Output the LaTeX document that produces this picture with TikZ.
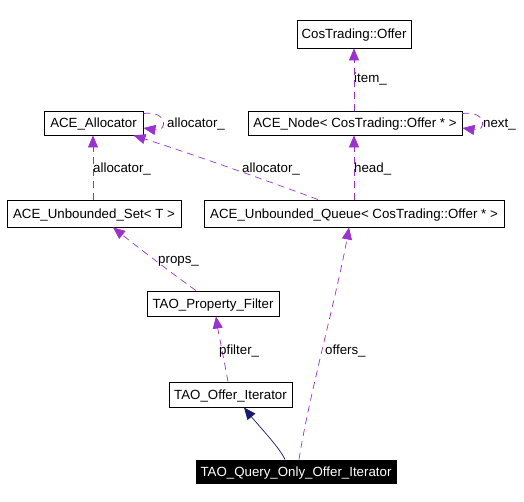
\documentclass[tikz,border=0pt]{standalone}
\usepackage{fontspec}
\setmainfont{Liberation Sans}
\usetikzlibrary{arrows.meta}
\definecolor{edgep}{RGB}{154,50,205}
\definecolor{edgen}{RGB}{25,25,112}
\begin{document}
\begin{tikzpicture}[x=1pt,y=-1pt,
  txt/.style={font=\fontsize{13.3}{15}\selectfont, text height=11pt, text depth=1.8pt},
  box/.style={txt, draw=black, line width=0.9pt, inner sep=0pt, fill=white},
  curbox/.style={box, fill=black, text=white},
  lbl/.style={txt, anchor=west, inner sep=0pt},
  rel/.style={draw=edgep, line width=0.7pt, dash pattern=on 7pt off 5pt,
     -{Triangle[length=12pt,width=10pt,fill=edgep]}},
  inh/.style={draw=edgen, line width=0.7pt,
     -{Triangle[length=12pt,width=10pt,fill=edgen]}}]
\useasboundingbox (0,0) rectangle (524,502);
% nodes
\node[box, minimum width=114pt, minimum height=28pt] (offer) at (354,34) {CosTrading::Offer};
\node[box, minimum width=99pt, minimum height=24pt] (alloc) at (93.5,123) {ACE\_Allocator};
\node[box, minimum width=214pt, minimum height=24pt] (anode) at (355,123) {ACE\_Node< CosTrading::Offer * >};
\node[box, minimum width=174pt, minimum height=27pt] (aset) at (94,213.5) {ACE\_Unbounded\_Set< T >};
\node[box, minimum width=300pt, minimum height=27pt] (queue) at (354,213.5) {ACE\_Unbounded\_Queue< CosTrading::Offer * >};
\node[box, minimum width=132pt, minimum height=25pt] (filter) at (213,303.5) {TAO\_Property\_Filter};
\node[box, minimum width=123pt, minimum height=25pt] (iter) at (230.5,394.5) {TAO\_Offer\_Iterator};
\node[curbox, minimum width=200pt, minimum height=23pt] (query) at (296,471.5) {TAO\_Query\_Only\_Offer\_Iterator};
% edges
\draw[inh] ([xshift=-11pt]query.north) .. controls (280,448) and (258,425) .. ([xshift=13.5pt]iter.south);
\draw[rel] ([xshift=3pt]query.north) .. controls (308,400) and (338,290) .. ([xshift=-5pt]queue.south);
\draw[rel] ([xshift=-2.5pt]iter.north) .. controls (224,360) and (218,330) .. ([xshift=3pt]filter.south);
\draw[rel] ([xshift=-17pt]filter.north) .. controls (170,272) and (135,245) .. ([xshift=19pt]aset.south);
\draw[rel] ([xshift=-1pt]aset.north) -- ([xshift=-0.5pt]alloc.south);
\draw[rel] ([xshift=-36pt]queue.north) .. controls (260,178) and (180,150) .. ([xshift=-10pt]alloc.south east);
\draw[rel] (queue.north) -- ([xshift=-1pt]anode.south);
\draw[rel] ([xshift=-1pt]anode.north) -- (offer.south);
\draw[rel] ([yshift=-3pt]alloc.north east) .. controls (168,110) and (168,132) .. ([yshift=-5pt]alloc.east);
\draw[rel] ([yshift=-3pt]anode.north east) .. controls (487,110) and (487,132) .. ([yshift=-5pt]anode.east);
% labels
\node[lbl] (litem) at (354,78) {item\_};
\node[lbl] (lalloc1) at (93,168) {allocator\_};
\node[lbl] (lalloc2) at (242,168) {allocator\_};
\node[lbl] (lhead) at (354,168) {head\_};
\node[lbl] (lalloc3) at (167,123) {allocator\_};
\node[lbl] (lnext) at (483,123) {next\_};
\node[lbl] (lprops) at (158,259) {props\_};
\node[lbl] (lpfilter) at (219,350) {pfilter\_};
\node[lbl] (loffers) at (325,350) {offers\_};
\end{tikzpicture}
\end{document}
